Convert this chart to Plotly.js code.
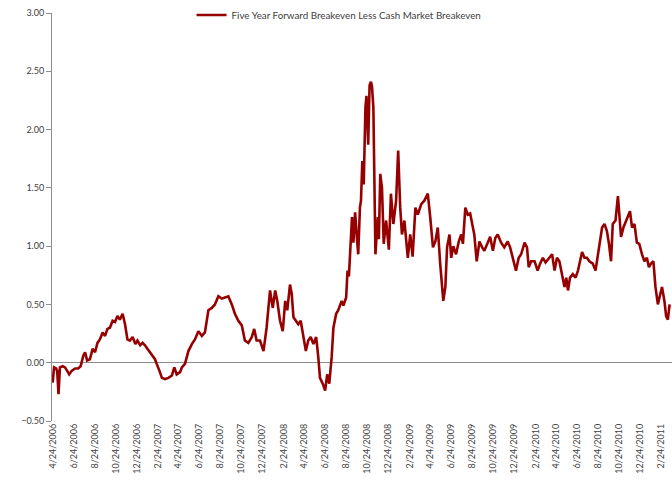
<!DOCTYPE html>
<html>
<head>
<meta charset="utf-8">
<script src="https://cdn.plot.ly/plotly-3.0.1.min.js"></script>
<style>html,body{margin:0;padding:0;background:#fff;}#chart{width:672px;height:481px;}</style>
</head>
<body>
<div id="chart"></div>
<script>
// Series: Five Year Forward Breakeven Less Cash Market Breakeven
const seriesName = "Five Year Forward Breakeven Less Cash Market Breakeven";
const startDate = "2006-04-24";
// observation dates, as days after startDate
const dayOffsets = [0,4,10,13,17,21,29,36,42,48,55,65,74,81,89,94,100,108,116,123,130,137,145,152,159,166,174,181,188,195,203,210,217,224,232,240,246,254,261,268,275,283,292,297,302,307,310,317,326,336,346,353,360,370,375,384,394,404,413,423,433,442,452,462,471,481,491,500,510,520,529,539,549,558,568,578,585,592,602,612,621,631,639,646,652,660,668,675,681,689,694,699,707,713,720,728,735,742,749,757,765,771,776,784,791,797,803,810,815,
823,829,839,844,852,856,860,865,869,873,878,883,887,892,895,899,903,908,911,916,920,924,927,931,937,944,947,951,956,961,968,976,982,989,997,1003,1009,1014,1021,1031,1038,1045,1053,1060,1070,1079,1089,1096,1104,1111,1118,1125,1130,1134,1140,1145,1152,1157,1163,1171,1179,1186,1191,1198,1205,1212,1218,1224,1231,1239,1247,1253,1263,1270,1278,1285,1292,1302,1311,1321,1328,1336,1345,1353,1360,1370,1377,1382,1389,1399,1408,1415,1423,1431,1442,1450,1457,1464,1471,1479,1486,1491,1496,1502,1510,1518,1525,1531,1537,1544,1551,1558,1568,1576,1583,1587,1595,1602,1609,1615,1621,1626,1634,1641,1645,1650,1657,1665,1673,1676,1682,1689,1696,1703,1711,1718,1725,1731,1737,1744,1750,1757,1764,1769,1776,1781,1786,1791];
const values = [-0.17,-0.04,-0.05,-0.07,-0.27,-0.04,-0.03,-0.04,-0.07,-0.10,-0.07,-0.05,-0.05,-0.03,0.06,0.09,0.02,0.03,0.12,0.09,0.17,0.20,0.26,0.23,0.29,0.30,0.36,0.35,0.40,0.37,0.42,0.33,0.20,0.19,0.22,0.16,0.19,0.15,0.17,0.15,0.12,0.09,0.05,0.03,-0.01,-0.04,-0.07,-0.13,-0.14,-0.13,-0.11,-0.04,-0.10,-0.08,-0.04,-0.01,0.10,0.16,0.20,0.27,0.23,0.26,0.45,0.47,0.50,0.57,0.55,0.56,0.57,0.50,0.42,0.36,0.32,0.19,0.17,0.22,0.29,0.19,0.19,0.10,0.30,0.62,0.47,0.62,0.53,0.36,0.27,0.53,0.45,0.67,0.59,0.39,0.36,0.33,0.36,0.22,0.10,0.19,0.22,0.16,0.22,0.05,-0.13,-0.18,-0.24,-0.10,-0.18,0.05,0.30,
0.42,0.45,0.53,0.49,0.56,0.79,0.74,1.02,1.25,1.03,1.29,1.08,0.93,1.33,1.39,1.73,1.53,2.19,2.29,1.87,2.38,2.41,2.37,2.19,0.93,1.25,1.06,1.62,1.50,1.02,1.22,0.97,1.45,1.19,1.39,1.82,1.33,1.10,1.22,0.90,1.10,0.91,1.33,1.27,1.36,1.39,1.45,1.25,0.99,1.04,1.16,0.85,0.65,0.53,0.65,0.99,1.10,0.90,1.00,0.93,1.04,1.10,1.02,1.33,1.27,1.28,1.19,1.10,0.87,1.04,0.99,0.96,1.03,1.08,0.96,1.07,1.10,1.03,0.99,1.04,0.99,0.90,0.79,0.90,0.93,1.03,0.99,0.82,0.87,0.87,0.79,0.85,0.90,0.86,0.90,0.93,0.79,0.90,0.87,0.76,0.65,0.73,0.62,0.73,0.76,0.73,0.79,0.87,0.95,0.90,0.90,0.87,0.85,0.79,0.93,0.99,1.16,1.19,1.13,1.02,0.87,1.19,1.22,1.43,1.30,1.08,1.16,1.22,1.27,1.30,1.16,1.19,1.03,1.02,0.93,0.87,0.90,0.82,0.85,0.87,0.65,0.50,0.59,0.65,0.53,0.40,0.37,0.50];
const tickLabels = ["4/24/2006","6/24/2006","8/24/2006","10/24/2006","12/24/2006","2/24/2007","4/24/2007","6/24/2007","8/24/2007","10/24/2007","12/24/2007","2/24/2008","4/24/2008","6/24/2008","8/24/2008","10/24/2008","12/24/2008","2/24/2009","4/24/2009","6/24/2009","8/24/2009","10/24/2009","12/24/2009","2/24/2010","4/24/2010","6/24/2010","8/24/2010","10/24/2010","12/24/2010","2/24/2011"];

function isoFromOffset(d){
  const p = startDate.split('-').map(Number);
  const base = Date.UTC(p[0], p[1]-1, p[2]);
  return new Date(base + d*86400000).toISOString().slice(0,10);
}
function isoFromLabel(s){
  const p = s.split('/');
  const mm = ('0'+p[0]).slice(-2), dd = ('0'+p[1]).slice(-2);
  return p[2]+'-'+mm+'-'+dd;
}
const xDates = dayOffsets.map(isoFromOffset);
const tickVals = tickLabels.map(isoFromLabel);

const font = {family: "Lato, 'Liberation Sans', sans-serif", size: 9, color: "#404040"};

const trace = {
  type: 'scatter', mode: 'lines', name: seriesName,
  x: xDates, y: values,
  line: {color: '#960000', width: 2.6}
};

const layout = {
  width: 672, height: 481,
  margin: {l: 52, r: 0, t: 13, b: 60, pad: 0},
  paper_bgcolor: '#ffffff', plot_bgcolor: '#ffffff',
  font: font,
  showlegend: true,
  legend: {orientation: 'h', x: 0.463, xanchor: 'center', y: 0.995, yanchor: 'middle',
           font: {family: font.family, size: 9.8, color: '#404040'}, bgcolor: 'rgba(0,0,0,0)'},
  xaxis: {type: 'date', range: ['2006-04-22', '2011-03-27'],
          tickmode: 'array', tickvals: tickVals, ticktext: tickLabels, tickangle: -90,
          showgrid: false, showline: false, zeroline: false, ticks: '',
          tickfont: font},
  yaxis: {range: [-0.5, 3.0], tickmode: 'linear', tick0: -0.5, dtick: 0.5, tickformat: '.2f',
          showgrid: false, showline: true, linecolor: '#8c8c8c', linewidth: 1,
          ticks: 'outside', ticklen: 5, tickcolor: '#8c8c8c',
          zeroline: true, zerolinecolor: '#8c8c8c', zerolinewidth: 1,
          tickfont: font}
};

Plotly.newPlot('chart', [trace], layout, {displayModeBar: false, staticPlot: true});
</script>
</body>
</html>
